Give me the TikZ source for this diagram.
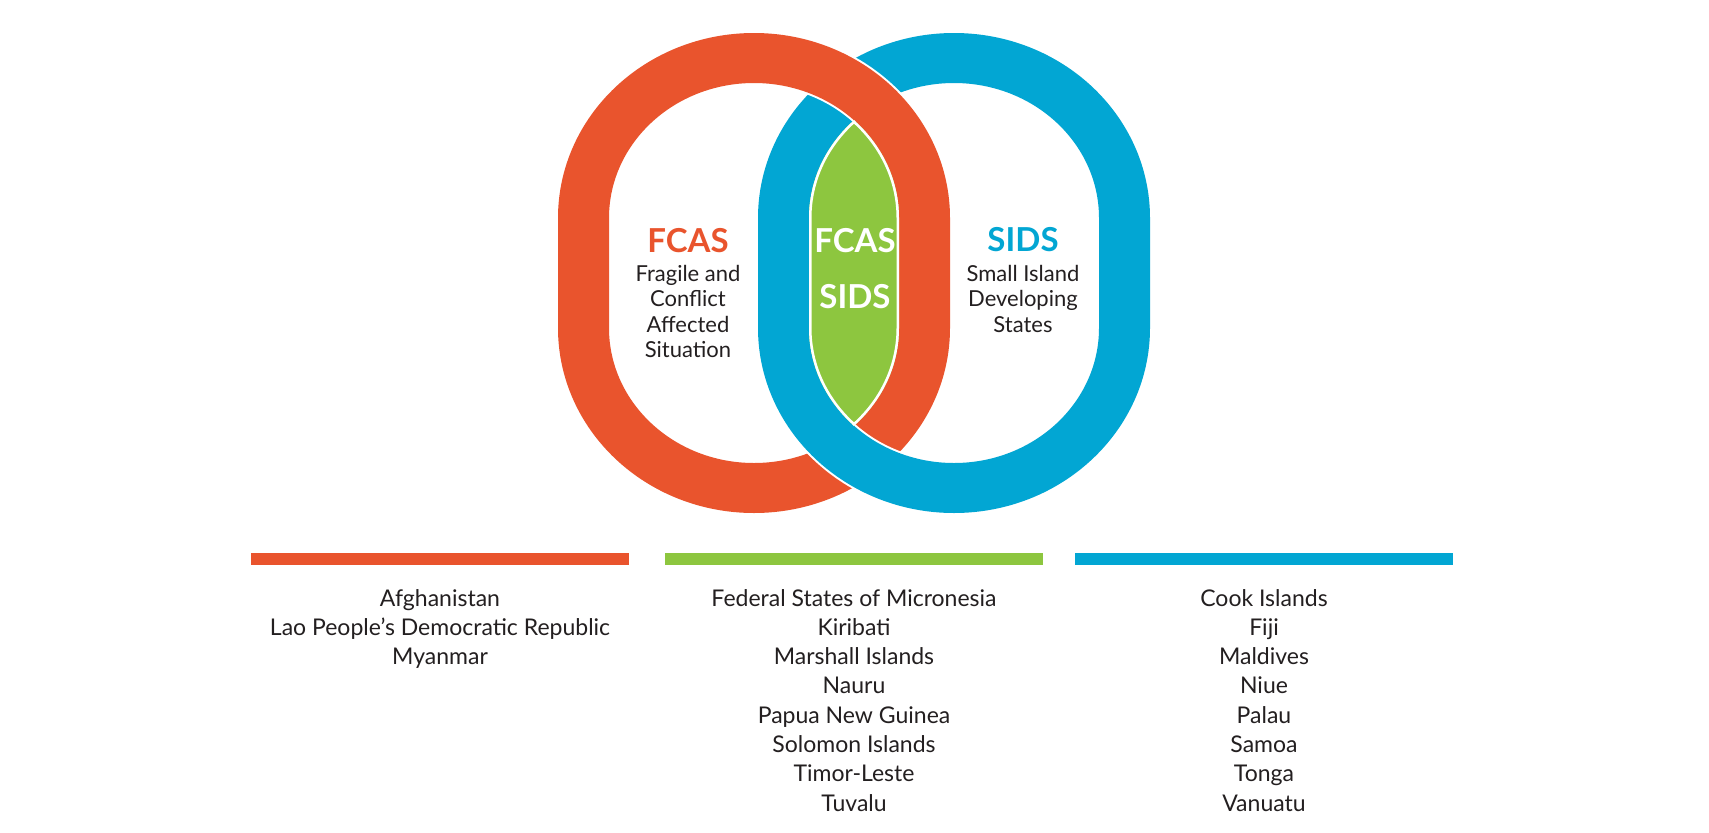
\documentclass[tikz,border=0pt]{standalone}
\usepackage{fontspec}
\setmainfont{Lato}
\definecolor{fcasorange}{HTML}{E9542D}
\definecolor{sidsblue}{HTML}{02A6D3}
\definecolor{bothgreen}{HTML}{8DC63F}
\definecolor{txt}{HTML}{231F20}
% ring outline: centre x, centre y, x radius, y radius (straight part 2x55)
\newcommand\ringpath[4]{({#1+#3},{#2-55}) arc[start angle=0,end angle=-180,x radius=#3,y radius=#4] -- ({#1-#3},{#2+55}) arc[start angle=180,end angle=0,x radius=#3,y radius=#4] -- cycle}
\newcommand\orangeouter{\ringpath{754}{273}{196}{185}}
\newcommand\orangeinner{\ringpath{754}{273}{145}{135}}
\newcommand\blueouter{\ringpath{954}{273}{196}{185}}
\newcommand\blueinner{\ringpath{954}{273}{145}{135}}
\begin{document}
\begin{tikzpicture}[x=1pt,y=-1pt,
  halo/.style={draw=white,line width=4pt},
  title/.style={anchor=base,inner sep=0pt,font=\fontsize{33}{33}\selectfont\bfseries},
  sub/.style={anchor=base,inner sep=0pt,text=txt,font=\fontsize{22}{22}\selectfont},
  country/.style={anchor=base,inner sep=0pt,text=txt,font=\fontsize{23}{23}\selectfont}]
\useasboundingbox (0,0) rectangle (1709,833);
\fill[white] (0,0) rectangle (1709,833);
% orange ring (under)
\fill[fcasorange,even odd rule] \orangeouter \orangeinner;
% blue ring over orange
\path[halo] \blueouter;
\path[halo] \blueinner;
\fill[sidsblue,even odd rule] \blueouter \blueinner;
% orange over blue at the top crossing
\begin{scope}
  \clip (0,0) rectangle (1709,273);
  \path[halo] \orangeouter;
  \path[halo] \orangeinner;
  \fill[fcasorange,even odd rule] \orangeouter \orangeinner;
\end{scope}
% green lens
\begin{scope}
  \clip \blueinner;
  \clip \orangeinner;
  \fill[bothgreen] (0,0) rectangle (1709,833);
  \draw[white,line width=5pt] \blueinner;
  \draw[white,line width=5pt] \orangeinner;
\end{scope}
% labels
\node[title,text=fcasorange] (fcasL) at (688,252) {FCAS};
\node[sub] (fl1) at (688,281) {Fragile and};
\node[sub] (fl2) at (688,306.5) {Conflict};
\node[sub] (fl3) at (688,332) {Affected};
\node[sub] (fl4) at (688,357) {Situation};
\node[title,text=white] (fcasM) at (855,252) {FCAS};
\node[title,text=white] (sidsM) at (855,308) {SIDS};
\node[title,text=sidsblue] (sidsR) at (1023,251) {SIDS};
\node[sub] (sl1) at (1023,281) {Small Island};
\node[sub] (sl2) at (1023,306.5) {Developing};
\node[sub] (sl3) at (1023,332) {States};
% bars
\fill[fcasorange] (251,553) rectangle (629,565);
\fill[bothgreen] (665,553) rectangle (1043,565);
\fill[sidsblue] (1075,553) rectangle (1453,565);
% country lists
\foreach \t [count=\i from 0] in {Afghanistan,Lao People’s Democratic Republic,Myanmar}
  \node[country] (fc\i) at (440,{606+\i*29.3}) {\t};
\foreach \t [count=\i from 0] in {Federal States of Micronesia,Kiribati,Marshall Islands,Nauru,Papua New Guinea,Solomon Islands,Timor-Leste,Tuvalu}
  \node[country] (bo\i) at (854,{606+\i*29.3}) {\t};
\foreach \t [count=\i from 0] in {Cook Islands,Fiji,Maldives,Niue,Palau,Samoa,Tonga,Vanuatu}
  \node[country] (si\i) at (1264,{606+\i*29.3}) {\t};
\end{tikzpicture}
\end{document}
